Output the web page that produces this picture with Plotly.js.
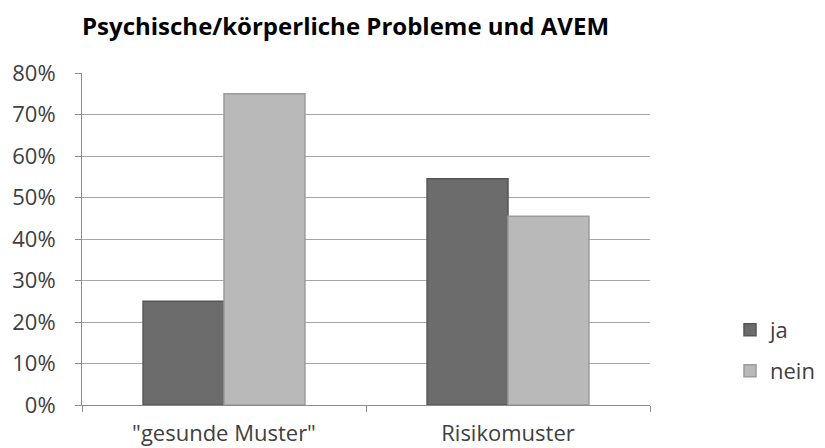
<!DOCTYPE html>
<html><head><meta charset="utf-8">
<script src="https://cdn.plot.ly/plotly-3.0.1.min.js"></script>
<style>body{margin:0;background:#fff}</style>
</head><body><div id="chart" style="width:825px;height:448px"></div>
<script>
const categories = ['"gesunde Muster"', 'Risikomuster'];
const jaValues = [0.25, 0.545];
const neinValues = [0.75, 0.455];
const yTicks = [0, 0.1, 0.2, 0.3, 0.4, 0.5, 0.6, 0.7, 0.8];

const fam = '"Open Sans", Lato, sans-serif';
const font = {family: fam, size: 22, color: '#404040'};

const data = [
  {type: 'bar', name: 'ja', x: categories, y: jaValues, legend: 'legend',
   marker: {color: '#6c6c6c', line: {color: '#555555', width: 1.5}}},
  {type: 'bar', name: 'nein', x: categories, y: neinValues, legend: 'legend2',
   marker: {color: '#b9b9b9', line: {color: '#9c9c9c', width: 1.5}}}
];

const layout = {
  width: 825, height: 448,
  margin: {l: 82, r: 175, t: 73, b: 43},
  paper_bgcolor: '#fff', plot_bgcolor: '#fff',
  font: font,
  title: {text: 'Psychische/körperliche Probleme und AVEM', xref: 'container', yref: 'container',
          x: 82/825, xanchor: 'left', y: 1 - 27/448, yanchor: 'middle',
          font: {family: fam, size: 24, color: '#000', weight: 'bold'}},
  barmode: 'group', bargap: 0.43, bargroupgap: 0,
  xaxis: {showline: true, linecolor: '#8c8c8c', linewidth: 1, ticks: 'outside', tickson: 'boundaries',
          ticklen: 6, tickcolor: '#8c8c8c', tickfont: font, showgrid: false, ticklabelstandoff: 9},
  yaxis: {range: [0, 0.8], tickvals: yTicks, tickformat: '.0%', showline: true, linecolor: '#8c8c8c',
          ticks: 'outside', ticklen: 6, tickcolor: '#8c8c8c', gridcolor: '#a6a6a6', gridwidth: 1,
          tickfont: font, zeroline: false, ticklabelstandoff: 15},
  showlegend: true,
  legend: {xref: 'container', yref: 'container', x: 730/825, y: 1 - 330/448, xanchor: 'left', yanchor: 'middle',
           font: font, bgcolor: 'rgba(0,0,0,0)'},
  legend2: {xref: 'container', yref: 'container', x: 730/825, y: 1 - 371/448, xanchor: 'left', yanchor: 'middle',
            font: font, bgcolor: 'rgba(0,0,0,0)'}
};

Plotly.newPlot('chart', data, layout, {displayModeBar: false});
</script></body></html>
